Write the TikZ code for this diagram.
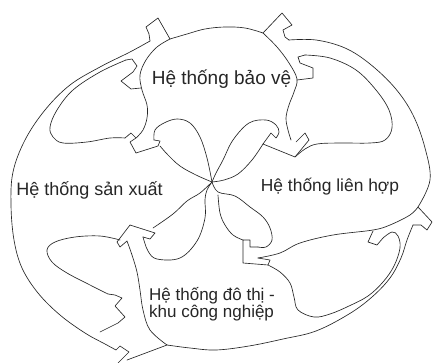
\documentclass[tikz,border=0pt]{standalone}
\usepackage{fontspec}
\setmainfont{Liberation Sans}
\begin{document}
\begin{tikzpicture}[x=1pt,y=-1pt,
  ln/.style={draw=black!85, line width=0.65pt, line join=round, line cap=round},
  lbl/.style={inner sep=0pt, text=black!85}]
\useasboundingbox (0,0) rectangle (433,363);
\fill[white] (0,0) rectangle (433,363);
% ---- outer boundary
\draw[ln] plot[smooth,tension=0.6] coordinates {(150,41) (130,52) (100,67) (70,85) (45,110) (25,140) (13,172) (11,205) (14,240) (22,268) (38,293) (60,315) (85,333) (105,344) (116,350)};
\draw[ln] (150,41) -- (149,34) -- (146,27) -- (158,18) -- (170,39);
\draw[ln] plot[smooth,tension=0.6] coordinates {(170,39) (187,34) (205,29) (225,27) (245,28) (263,33)};
\draw[ln] (263,33) -- (282,13) -- (292,25) -- (283,30) -- (285,37) -- (289,40);
\draw[ln] plot[smooth,tension=0.6] coordinates {(289,40) (316,40) (345,48) (370,64) (395,88) (413,115) (425,148) (430,180) (418,207)};
\draw[ln] (418,207) -- (432,222) -- (427,230) -- (421,225) -- (413,225);
\draw[ln] plot[smooth,tension=0.6] coordinates {(413,225) (407,240) (401,258) (390,278) (372,297) (349,314) (316,331) (283,339) (249,346) (216,350) (190,348) (167,345)};
\draw[ln] (167,345) -- (127,360);
\draw[ln] (116,350) -- (120,346) -- (129,352) -- (118,363);
% ---- top blob sides
\draw[ln] plot[smooth,tension=0.6] coordinates {(170,39) (157,47) (146,60) (140,75) (142,90) (147,105) (147,118) (143,130) (136,138)};
\draw[ln] plot[smooth,tension=0.6] coordinates {(263,33) (277,47) (289,63) (297,79) (294,92) (289,105) (286,118) (288,130) (291,140)};
% ---- left tongue
\draw[ln] (141,88) -- (131,89) -- (121,81) -- (133,72) -- (137,66) -- (132,59) -- (126,60);
\draw[ln] plot[smooth,tension=0.6] coordinates {(126,60) (100,72) (73,90) (57,110) (50,127) (53,137) (63,143) (87,142) (110,138) (125,138)};
\draw[ln] (125,138) -- (131,133) -- (136,138) -- (130,142) -- (136,153) -- (158,146) -- (160,141) -- (154,140);
% ---- right tongue
\draw[ln] (297,80) -- (313,78) -- (313,68) -- (300,63) -- (298,57) -- (305,55);
\draw[ln] plot[smooth,tension=0.6] coordinates {(305,55) (330,58) (356,70) (376,90) (389,110) (392,128) (385,140) (370,143) (340,143) (317,144) (305,149) (295,157)};
\draw[ln] (276,138) -- (271,133) -- (263,144) -- (295,157) -- (309,140) -- (305,133) -- (296,142);
% ---- central lobes (upper)
\draw[ln] plot[smooth,tension=0.6] coordinates {(154,140) (155,130) (164,123) (177,119) (190,123) (200,137) (207,158) (212,182)};
\draw[ln] plot[smooth,tension=0.6] coordinates {(160,146) (168,155) (180,166) (196,175) (212,182)};
\draw[ln] plot[smooth,tension=0.6] coordinates {(276,138) (279,132) (276,125) (266,120) (249,123) (233,140) (223,160) (216,173) (212,182)};
\draw[ln] plot[smooth,tension=0.6] coordinates {(263,144) (252,160) (238,174) (224,180) (212,182)};
% ---- central lobes (lower)
\draw[ln] plot[smooth,tension=0.6] coordinates {(212,182) (207,190) (205,200) (205,218) (197,241) (180,258) (157,259) (148,251) (143,237)};
\draw[ln] plot[smooth,tension=0.6] coordinates {(153,228) (173,214) (187,201) (200,193) (212,182)};
\draw[ln] plot[smooth,tension=0.6] coordinates {(212,182) (218,192) (235,196) (250,207) (263,217) (270,228) (272,240) (266,247) (258,247)};
\draw[ln] plot[smooth,tension=0.6] coordinates {(218,195) (220,213) (225,225) (233,235) (243,240)};
% ---- lower-left tongue
\draw[ln] (127,241) -- (120,247) -- (117,242) -- (130,225) -- (155,233) -- (150,239) -- (143,237);
\draw[ln] plot[smooth,tension=0.6] coordinates {(120,240) (100,236) (75,237) (55,242) (47,250) (52,262) (67,273) (90,285) (108,294)};
\draw[ln] (108,294) -- (115,295) -- (122,298) -- (115,306) -- (125,317) -- (118,323) -- (100,332);
\draw[ln] plot[smooth,tension=0.6] coordinates {(127,241) (132,255) (137,272) (140,290) (143,310) (150,330) (167,345)};
% ---- lower-right tongue
\draw[ln] (258,247) -- (250,247) -- (250,240) -- (243,240) -- (243,263) -- (268,265) -- (270,260) -- (258,258);
\draw[ln] plot[smooth,tension=0.6] coordinates {(258,258) (280,253) (300,243) (333,235) (373,230) (390,225) (410,215) (418,207)};
\draw[ln] plot[smooth,tension=0.6] coordinates {(268,265) (280,272) (290,283) (294,297) (298,310) (314,317) (330,314) (349,306) (368,296) (383,282) (394,266) (400,248) (398,236) (392,232) (383,238)};
\draw[ln] (383,238) -- (377,245) -- (368,242) -- (373,231);
% ---- labels
\node[lbl, font=\fontsize{19}{21}\selectfont] (bv) at (221.5,79) {Hệ thống bảo vệ};
\node[lbl, font=\fontsize{18}{20}\selectfont] (sx) at (89.5,190) {Hệ thống sản xuất};
\node[lbl, font=\fontsize{17.4}{19}\selectfont] (lh) at (330,187) {Hệ thống liên hợp};
\node[lbl, font=\fontsize{17}{17}\selectfont, align=left, anchor=north west] (dt) at (149,287) {Hệ thống đô thị -\\khu công nghiệp};
\end{tikzpicture}
\end{document}
